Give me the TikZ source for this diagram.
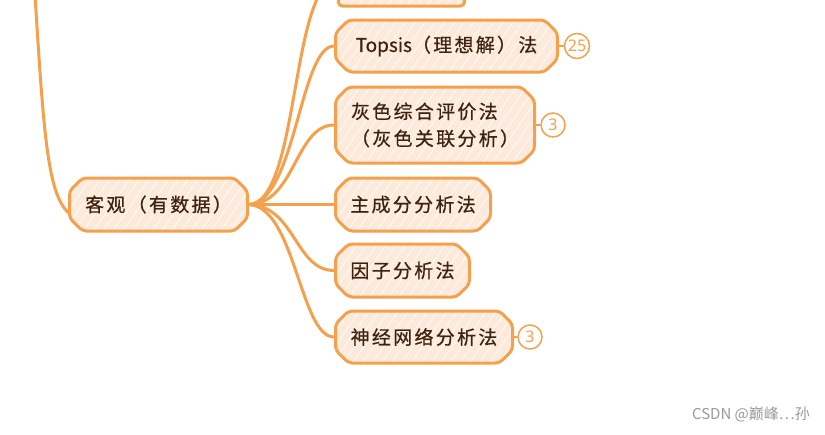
\documentclass[tikz,border=0pt]{standalone}
\usepackage{fontspec}
\usetikzlibrary{shapes.misc,patterns.meta}
\newfontfamily\cjk[LetterSpace=12,FakeBold=0.6]{Noto Sans CJK SC}
\newfontfamily\latn[FakeBold=0.6]{Noto Sans CJK SC}
\newfontfamily\badgefont{Noto Sans}
\newfontfamily\wmfont{Noto Sans CJK SC}
\definecolor{orng}{HTML}{F5A04C}
\definecolor{peach}{HTML}{FDEADB}
\definecolor{brown}{HTML}{3E2410}
\tikzset{
  topic/.style={chamfered rectangle, chamfered rectangle xsep=6pt, chamfered rectangle ysep=7pt,
    draw=orng, line width=3pt, rounded corners=4pt,
    preaction={fill=peach},
    pattern={Lines[angle=55,distance=8pt,line width=0.7pt]}, pattern color=white,
    text=brown, font=\cjk\fontsize{19}{27}\selectfont, align=left,
    inner sep=0pt, anchor=west},
  badge/.style={circle, draw=orng, line width=1.5pt, fill=white, text=orng,
    font=\badgefont\fontsize{16}{16}\selectfont, inner sep=0pt, minimum size=24pt},
  conn/.style={draw=orng, line width=3pt, line cap=round},
  thin/.style={draw=orng, line width=1.5pt}
}
\begin{document}
\begin{tikzpicture}[x=1pt,y=-1pt]
\useasboundingbox (0,0) rectangle (825,434);
\clip (0,0) rectangle (825,434);
% left trunk
\coordinate (trunktop) at (35,-5);
% top partial node
\node[topic, minimum width=126pt, minimum height=52pt] (top) at (338,-20) {};
\node[topic, minimum width=222pt, minimum height=52pt] (t1) at (334,46) {{\latn Topsis}（理想解）法};
\node[topic, minimum width=199pt, minimum height=76pt] (t2) at (334,125) {灰色综合评价法\\（灰色关联分析）};
\node[topic, minimum width=155pt, minimum height=53pt] (t3) at (334,204.5) {主成分分析法};
\node[topic, minimum width=134pt, minimum height=53pt] (t4) at (334,270.5) {因子分析法};
\node[topic, minimum width=177pt, minimum height=52pt] (t5) at (334,337) {神经网络分析法};
\node[topic, minimum width=178pt, minimum height=53pt] (kg) at (68,204.5) {客观（有数据）};
% connectors
\draw[conn] (trunktop) .. controls (44,140) and (48,192) .. ([yshift=-8pt]kg.west);
\coordinate (kgE) at ([xshift=-1pt]kg.east);
\draw[conn] (kgE) .. controls (300,205) and (290,-20) .. (top.west);
\draw[conn] (kgE) .. controls (295,205) and (300,46) .. (t1.west);
\draw[conn] (kgE) .. controls (295,205) and (295,125) .. (t2.west);
\draw[conn] (kgE) -- (t3.west);
\draw[conn] (kgE) .. controls (295,205) and (295,270.5) .. (t4.west);
\draw[conn] (kgE) .. controls (295,205) and (300,337) .. (t5.west);
% badges
\node[badge, minimum size=25pt] (b1) at (577,46) {25};
\node[badge] (b2) at (553,125) {3};
\node[badge] (b5) at (530,337) {3};
\draw[thin] (t1.east) -- (b1.west);
\draw[thin] (t2.east) -- (b2.west);
\draw[thin] (t5.east) -- (b5.west);
% watermark
\node[anchor=east, text=black!40, font=\wmfont\fontsize{15}{15}\selectfont, inner sep=0pt] (wm) at (810,414) {CSDN @巅峰…孙};
\end{tikzpicture}
\end{document}
